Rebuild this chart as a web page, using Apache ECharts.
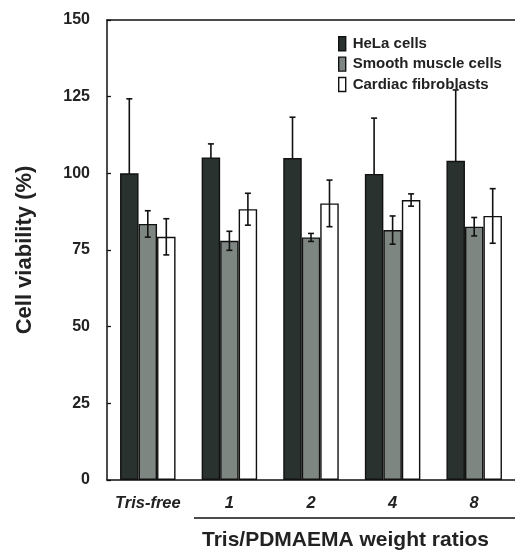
<!DOCTYPE html>
<html><head><meta charset="utf-8">
<script src="https://cdn.jsdelivr.net/npm/echarts@6/dist/echarts.min.js"></script>
<style>html,body{margin:0;padding:0;background:#fff}#c{width:515px;height:554px}</style>
</head><body><div id="c"></div>
<script>
var categories = ['Tris-free', '1', '2', '4', '8'];
var seriesNames = ['HeLa cells', 'Smooth muscle cells', 'Cardiac fibroblasts'];
var helaValues = [100, 105.2, 105, 99.8, 104.1];
var helaErr = [24.3, 4.4, 13.3, 18.2, 23.1];
var smoothValues = [83.5, 78, 79.1, 81.5, 82.6];
var smoothErr = [4.3, 3.1, 1.3, 4.6, 3.0];
var cardiacValues = [79.3, 88.3, 90.2, 91.3, 86.1];
var cardiacErr = [5.9, 5.2, 7.6, 2.0, 8.9];
var yTicks = [0, 25, 50, 75, 100, 125, 150];

var colors = ['#2a3230', '#7e8682', '#ffffff'];
var values = [helaValues, smoothValues, cardiacValues];
var errs = [helaErr, smoothErr, cardiacErr];
var catGap = 0.32;
var font = 'Arial, "Liberation Sans", sans-serif';

function errSeries(k) {
  var data = values[k].map(function (v, i) { return [i, v, errs[k][i]]; });
  return {
    type: 'custom',
    z: k === 0 ? 1 : 5,
    silent: true,
    renderItem: function (params, api) {
      var i = api.value(0), v = api.value(1), e = api.value(2);
      var band = api.size([1, 0])[0];
      var w = band * (1 - catGap) / 3;
      var c = api.coord([i, v]);
      var x = c[0] + (k - 1) * w;
      var top = api.coord([i, v + e])[1];
      var bot = api.coord([i, v - e])[1];
      var cap = 3;
      var st = { stroke: '#111', lineWidth: 1.6 };
      return { type: 'group', children: [
        { type: 'line', shape: { x1: x, y1: top, x2: x, y2: bot }, style: st },
        { type: 'line', shape: { x1: x - cap, y1: top, x2: x + cap, y2: top }, style: st },
        { type: 'line', shape: { x1: x - cap, y1: bot, x2: x + cap, y2: bot }, style: st }
      ]};
    },
    data: data
  };
}

var barSeries = seriesNames.map(function (n, k) {
  return {
    name: n, type: 'bar', z: 2,
    barGap: 0, barCategoryGap: (catGap * 100) + '%',
    itemStyle: { color: colors[k], borderColor: '#111', borderWidth: 1.4 },
    data: values[k]
  };
});

var chart = echarts.init(document.getElementById('c'), null, { renderer: 'canvas' });
chart.setOption({
  animation: false,
  backgroundColor: '#fff',
  grid: { left: 107, top: 20, width: 413, height: 460, containLabel: false },
  legend: {
    orient: 'vertical', left: 333, top: 31, itemWidth: 7, itemHeight: 14, itemGap: 5,
    icon: 'rect',
    textStyle: { fontFamily: font, fontWeight: 'bold', fontSize: 15, color: '#222', padding: [0, 0, 0, 2] },
    data: seriesNames.map(function (n, k) { return { name: n, itemStyle: { color: colors[k], borderColor: '#111', borderWidth: 1.4 } }; })
  },
  xAxis: [{
    type: 'category', data: categories, position: 'bottom',
    axisLine: { lineStyle: { color: '#111', width: 1.5 } },
    axisTick: { show: false },
    axisLabel: { interval: 0, hideOverlap: false, margin: 15, fontFamily: font, fontWeight: 'bold', fontStyle: 'italic', fontSize: 16.5, color: '#222' }
  }, {
    type: 'category', data: categories, position: 'top',
    axisLine: { lineStyle: { color: '#111', width: 1.5 } },
    axisTick: { show: false }, axisLabel: { show: false }
  }],
  yAxis: {
    type: 'value', min: 0, max: 150, interval: 25,
    name: 'Cell viability (%)', nameLocation: 'middle', nameGap: 71,
    nameTextStyle: { fontFamily: font, fontWeight: 'bold', fontSize: 22, color: '#222' },
    axisLine: { show: true, lineStyle: { color: '#111', width: 1.5 } },
    axisTick: { show: true, inside: true, length: 4, lineStyle: { color: '#111', width: 1.3 } },
    axisLabel: { margin: 17, fontFamily: font, fontWeight: 'bold', fontSize: 16, color: '#222',
      formatter: function (v) { return yTicks.indexOf(v) >= 0 ? String(v) : ''; } },
    splitLine: { show: false }
  },
  graphic: [
    { type: 'line', shape: { x1: 194, y1: 518, x2: 515, y2: 518 }, style: { stroke: '#111', lineWidth: 1.5 } },
    { type: 'text', left: 202, top: 530, style: { text: 'Tris/PDMAEMA weight ratios', font: 'bold 21px ' + font, fill: '#222' } }
  ],
  series: barSeries.concat([errSeries(0), errSeries(1), errSeries(2)])
});
</script></body></html>
